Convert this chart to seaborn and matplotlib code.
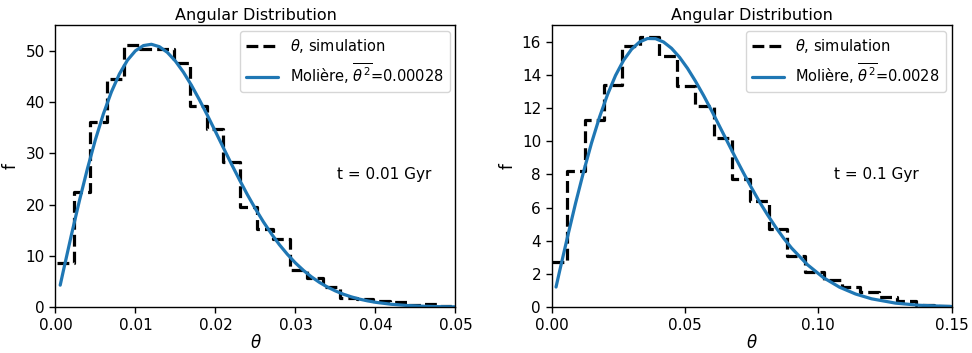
import matplotlib
matplotlib.use("Agg")
import matplotlib.pyplot as plt
import seaborn as sns
import pandas as pd

# Histograma de la simulacion (bordes de los bins y alturas), t = 0.01 Gyr
edges_1 = [0.0002, 0.00228, 0.00436, 0.00644, 0.00852, 0.0106, 0.01268, 0.01476,
           0.01684, 0.01892, 0.021, 0.02308, 0.02516, 0.02724, 0.02932, 0.0314,
           0.03348, 0.03556, 0.03764, 0.03972, 0.0418, 0.04388, 0.04596, 0.04804, 0.05012]
counts_1 = [8.6, 22.4, 36.0, 44.4, 51.2, 50.4, 50.3, 47.6, 39.2, 34.8, 28.3, 19.5,
            15.3, 13.3, 7.2, 5.6, 4.0, 1.7, 1.5, 1.1, 1.0, 0.5, 0.7, 0.3]

# Curva de Moliere, t = 0.01 Gyr
theta_1 = [0.0006, 0.001, 0.002, 0.003, 0.004, 0.005, 0.006, 0.007, 0.008, 0.009,
           0.010, 0.011, 0.012, 0.013, 0.014, 0.015, 0.016, 0.017, 0.018, 0.019,
           0.020, 0.021, 0.022, 0.023, 0.024, 0.025, 0.026, 0.027, 0.028, 0.029,
           0.030, 0.031, 0.032, 0.033, 0.034, 0.035, 0.036, 0.037, 0.038, 0.039,
           0.040, 0.042, 0.044, 0.046, 0.048, 0.050]
moliere_1 = [4.28, 7.12, 14.08, 20.75, 26.98, 32.66, 37.69, 41.97, 45.47, 48.14,
             49.98, 51.00, 51.25, 50.78, 49.66, 47.97, 45.81, 43.26, 40.42, 37.39,
             34.24, 31.05, 27.90, 24.84, 21.91, 19.16, 16.61, 14.28, 12.16, 10.28,
             8.61, 7.16, 5.90, 4.82, 3.91, 3.15, 2.51, 1.99, 1.56, 1.22,
             0.94, 0.55, 0.31, 0.17, 0.09, 0.05]

# Histograma de la simulacion, t = 0.1 Gyr
edges_2 = [0.0, 0.00575, 0.01263, 0.01951, 0.02639, 0.03327, 0.04015, 0.04703,
           0.05391, 0.06079, 0.06767, 0.07455, 0.08143, 0.08831, 0.09519, 0.10207,
           0.10895, 0.11583, 0.12271, 0.12959, 0.13647, 0.14335, 0.15023]
counts_2 = [2.7, 8.2, 11.3, 13.4, 15.75, 16.3, 15.15, 13.3, 12.1, 10.2, 7.7, 6.4,
            4.7, 3.1, 2.1, 1.65, 1.2, 0.9, 0.6, 0.35, 0.15, 0.05]

# Curva de Moliere, t = 0.1 Gyr
theta_2 = [0.0017, 0.003, 0.006, 0.009, 0.012, 0.015, 0.018, 0.021, 0.024, 0.027,
           0.030, 0.033, 0.036, 0.039, 0.042, 0.045, 0.048, 0.051, 0.054, 0.057,
           0.060, 0.063, 0.066, 0.069, 0.072, 0.075, 0.078, 0.081, 0.084, 0.087,
           0.090, 0.096, 0.102, 0.108, 0.114, 0.120, 0.129, 0.138, 0.150]
moliere_2 = [1.21, 2.14, 4.23, 6.25, 8.14, 9.89, 11.45, 12.81, 13.96, 14.87,
             15.54, 15.98, 16.19, 16.18, 15.98, 15.60, 15.06, 14.39, 13.61, 12.76,
             11.85, 10.90, 9.95, 9.00, 8.08, 7.19, 6.34, 5.56, 4.83, 4.16,
             3.56, 2.55, 1.77, 1.20, 0.79, 0.50, 0.24, 0.11, 0.035]

panels = [
    (edges_1, counts_1, theta_1, moliere_1, "0.00028", "t = 0.01 Gyr", 0.05, 55,
     [0, 0.01, 0.02, 0.03, 0.04, 0.05]),
    (edges_2, counts_2, theta_2, moliere_2, "0.0028", "t = 0.1 Gyr", 0.15, 17,
     [0, 0.05, 0.10, 0.15]),
]

sns.set_theme(style="ticks")
plt.rcParams['font.family'] = ['DejaVu Sans']
plt.rcParams['mathtext.fontset'] = 'dejavusans'
for key in ['text.color', 'axes.labelcolor', 'xtick.color', 'ytick.color', 'axes.edgecolor']:
    plt.rcParams[key] = 'black'

fig, axes = plt.subplots(1, 2, figsize=(9.72, 3.53), dpi=100)
fig.subplots_adjust(left=0.057, right=0.979, bottom=0.13, top=0.929, wspace=0.24)

for ax, (edges, counts, th, mol, s2, tlabel, xmax, ymax, xt) in zip(axes, panels):
    hist = pd.DataFrame({'theta': edges, 'f': counts + [counts[-1]]})
    curve = pd.DataFrame({'theta': th, 'f': mol})
    sns.lineplot(data=hist, x='theta', y='f', ax=ax, drawstyle='steps-post',
                 color='black', linestyle='--', linewidth=2.3,
                 label=r'$\theta$, simulation')
    sns.lineplot(data=curve, x='theta', y='f', ax=ax, color='#1f77b4',
                 linewidth=2.3, label=r'Molière, $\overline{\theta^2}$=' + s2)
    ax.set_xlim(0, xmax)
    ax.set_ylim(0, ymax)
    ax.set_xticks(xt)
    ax.set_xticklabels(["{:.2f}".format(v) for v in xt])
    ax.set_title('Angular Distribution', fontsize=11.5, pad=4)
    ax.set_xlabel(r'$\theta$', fontsize=12, labelpad=1)
    ax.set_ylabel('f', fontsize=12)
    ax.tick_params(labelsize=11, length=4, width=1)
    for sp in ax.spines.values():
        sp.set_linewidth(1.0)
    ax.text(0.705, 0.47, tlabel, transform=ax.transAxes, fontsize=11, va='center')
    leg = ax.legend(loc='upper right', fontsize=10.5, handlelength=2.2, borderaxespad=0.4)
    for t in leg.get_texts():
        t.set_color('black')

fig.savefig('out.png', dpi=100)
